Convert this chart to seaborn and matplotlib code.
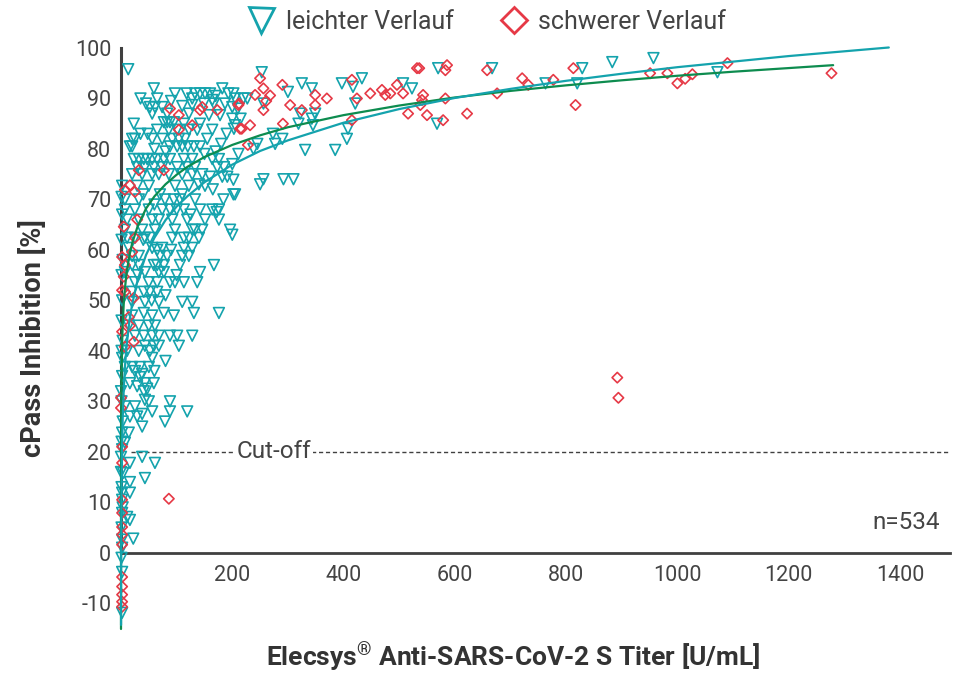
import matplotlib
matplotlib.use("Agg")
import matplotlib.pyplot as plt
from matplotlib.lines import Line2D
import pandas as pd
import seaborn as sns

# --- data --------------------------------------------------------------
# (titer U/mL, cPass inhibition %)
mild_points = [
    # sparse region, titer > ~190
    (253, 95.2), (202, 91), (220, 90), (227, 90), (205, 90), (256, 89), (300, 91.3),
    (325, 93), (343, 92), (397, 93), (417, 92.3), (433, 94), (421, 89), (507, 93),
    (523, 92), (570, 96), (568, 85), (322, 87), (349, 87), (343, 86), (345, 84.7),
    (319, 85), (408, 84), (406, 82), (273, 83), (290, 82), (277, 81), (245, 81),
    (238, 80), (331, 79.8), (385, 79.8), (202, 73.9), (256, 74), (250, 73), (292, 74),
    (310, 74), (205, 71), (211, 79), (200, 77), (200, 86), (203, 84), (667, 96),
    (763, 93), (820, 93), (829, 96), (883, 97.2), (957, 98), (1072, 95.2),
    (202, 71), (184, 70), (172, 67.5), (200, 63),
    # dense region, 72-96 %
    (13, 95.8), (59, 92), (97, 91), (133, 91), (142, 91), (151, 91), (160, 91), (182, 92),
    (65, 90), (128, 90), (164, 89.7),
    (52, 88.3), (61, 88.3), (74, 88.3), (128, 88.7), (149, 89), (167, 89), (187, 89), (200, 88.3),
    (56, 87), (83, 87), (122, 87), (158, 86.7), (178, 86.7),
    (23, 85), (77, 85.3), (83, 85.3), (88, 85.3), (95, 85.3), (113, 85), (142, 85), (205, 84.7),
    (65, 83.8), (86, 83.8), (101, 83.8), (122, 83.8), (137, 83.8), (164, 83.8),
    (20, 82), (25, 82), (56, 82), (74, 82), (92, 82), (104, 82), (115, 82), (155, 82),
    (16, 80.5), (20, 80.5), (88, 80.5), (101, 80.5), (110, 80.5), (131, 80.5), (142, 80.5),
    (23, 78), (32, 78), (41, 78), (47, 78), (56, 78), (65, 78), (77, 78), (88, 78),
    (113, 78), (128, 78), (164, 78), (176, 78),
    (29, 76.4), (43, 76.4), (59, 76.4), (74, 76.4), (101, 76.4), (119, 76.4), (133, 76.4),
    (173, 76.4), (185, 76.4),
    (20, 75), (38, 75), (56, 75), (68, 75), (86, 75), (110, 75), (128, 75), (146, 75),
    (160, 74.5), (182, 74.5), (191, 74.5),
    (2, 72.7), (29, 72.7), (50, 72.7), (97, 72.7), (122, 72.7), (151, 72.7),
    (35, 90), (45, 89), (90, 89.5), (110, 88.5), (118, 91), (170, 90.5), (193, 91),
    (210, 88), (215, 86), (190, 83), (180, 81), (170, 79.5), (150, 79), (120, 80.5),
    (80, 79.5), (60, 80), (48, 83), (35, 83), (140, 73), (165, 72),
    # 48-72 %
    (7, 70), (32, 70), (79, 70), (95, 70), (106, 70), (133, 70),
    (7, 68), (25, 68), (50, 68), (74, 68), (88, 68), (113, 68), (142, 68), (164, 68), (176, 68),
    (11, 66), (32, 66), (56, 66), (68, 66), (92, 66), (119, 66), (151, 66), (176, 66),
    (7, 64), (38, 64), (61, 64), (97, 64), (128, 64), (133, 64), (146, 64), (196, 64),
    (11, 62.4), (25, 62.4), (43, 62.4), (52, 62.4), (92, 62.4), (113, 62.4), (122, 62.4), (140, 62.4),
    (14, 60.4), (56, 60.4), (74, 60.4), (113, 60.4), (128, 60.4),
    (20, 58.8), (32, 58.8), (70, 58.8), (83, 58.8), (110, 58.8), (122, 58.8),
    (20, 57), (32, 57), (59, 57), (65, 57), (77, 57), (106, 57), (167, 57),
    (7, 55.6), (43, 55.6), (68, 55.6), (77, 55.6), (142, 55.6),
    (25, 53.6), (50, 53.6), (65, 53.6), (88, 53.6), (97, 53.6), (113, 53.6), (137, 53.6),
    (20, 51.7), (41, 51.7), (52, 51.7), (65, 51.7),
    (20, 49.7), (43, 49.7), (68, 49.7), (110, 49.7), (128, 49.7),
    (110, 71), (70, 71), (40, 71), (60, 69), (100, 68), (125, 67), (40, 62), (65, 60),
    (90, 60), (100, 55), (30, 55), (55, 50), (80, 51),
    # below 48 %
    (20, 47), (41, 47.5), (56, 47), (77, 47.5), (131, 47.5), (176, 47.5),
    (14, 45), (32, 45), (50, 45), (61, 45),
    (41, 43), (56, 43), (68, 43), (88, 43), (101, 43), (128, 43),
    (43, 41), (59, 41), (68, 41), (104, 41),
    (32, 40), (52, 40), (2, 38.6), (56, 38.6),
    (7, 36.8), (20, 36.8), (34, 36.8), (50, 36.8), (38, 35.4), (34, 34.8),
    (16, 33.6), (29, 33), (43, 33.6), (59, 33.6), (0, 32), (41, 32), (47, 32.5),
    (43, 30.3), (88, 30), (7, 29), (25, 29), (56, 28), (88, 28), (119, 28),
    (16, 27), (29, 27), (38, 27.5), (79, 26), (38, 25), (2, 23.8), (14, 23.8),
    (95, 47), (25, 43), (80, 38), (60, 36), (50, 30), (25, 36), (11, 40),
    (7, 21.8), (38, 19), (61, 17.8), (43, 14.8), (16, 17.8), (16, 14), (16, 11.9),
    (0, 19), (0, 16), (4, 15.8), (11, 7.1), (16, 6.5), (22, 2.8), (2, 2.6),
    (2, 11.9), (2, 10.5), (2, 7.9), (2, -3.8), (2, -11.9),
    # column along the y axis
    (1, 70.5), (2, 67), (1, 62), (3, 58), (1, 55), (2, 50), (1, 46), (3, 42), (1, 40),
    (2, 35), (1, 30), (3, 26), (1, 22), (2, 20.5), (1, 13), (3, 9), (1, 5), (2, 1), (1, -1),
]

severe_points = [
    (250, 94), (290, 92.7), (256, 92), (241, 90.7), (268, 90.6), (261, 89.5), (349, 90.7),
    (370, 90), (349, 88.7), (304, 88.7), (256, 87.7), (211, 88.7), (325, 87.7), (415, 93.7),
    (424, 90), (448, 91), (469, 91.7), (475, 90.7), (484, 91), (496, 92.7), (507, 91),
    (532, 96), (536, 96), (543, 90.7), (538, 88.7), (516, 87), (550, 86.7), (579, 85.7),
    (583, 90), (415, 85.7), (291, 85), (217, 84), (232, 84.7), (228, 80.8), (586, 96.6),
    (583, 95.6), (658, 95.6), (541, 89.7), (622, 87), (676, 91), (721, 94), (732, 92.7),
    (777, 93.7), (813, 96), (817, 88.7), (951, 95), (982, 95), (1000, 93), (1014, 93.9),
    (1027, 94.8), (1090, 97), (1277, 95), (892, 34.7), (894, 30.7), (86, 10.7),
    (88, 88), (104, 86.7), (128, 84.7), (104, 83.8), (146, 88.3), (142, 87.7), (173, 87.7),
    (212, 89), (214, 84), (32, 75.8), (77, 75.8), (16, 72.8), (7, 71.9), (25, 71.5),
    (29, 66), (5, 64.6), (25, 62.4), (20, 59.6), (2, 58.6), (7, 57), (5, 54.7), (2, 52),
    (7, 51.7), (23, 50.5), (14, 46.7), (2, 43.8), (16, 45), (23, 41.8), (7, 40.8),
    (0, 30.7), (0, 28.7), (2, 21), (2, 17.8), (2, 10.5), (2, 7.9), (2, 5.1), (2, 3.6),
    (2, 1.6), (2, -4.8), (2, -6.7), (2, -8.3), (2, -9.7), (2, -10.7),
]

# fitted curves as drawn in the reference
mild_fit_x = [0.1, 0.3, 1, 2, 3, 5, 7, 10, 15, 20, 30, 45, 60, 80, 100, 120, 150, 200,
              250, 300, 400, 500, 600, 700, 800, 900, 1000, 1100, 1200, 1380]
mild_fit_y = [-14.3, -1.1, 13.3, 21.6, 26.5, 32.6, 36.7, 40.9, 45.8, 49.2, 54.1, 59.0, 62.4,
              65.9, 68.6, 70.7, 73.4, 76.9, 79.6, 81.7, 85.2, 87.9, 90.1, 91.9, 93.5, 94.9,
              96.2, 97.3, 98.4, 100.1]
severe_fit_x = [0.0025, 0.03, 0.3, 1, 2, 3, 5, 7, 10, 15, 20, 30, 45, 60, 80, 100, 120, 150,
                200, 250, 300, 400, 500, 600, 700, 800, 900, 1000, 1100, 1280]
severe_fit_y = [-15.1, 6.0, 25.6, 35.8, 41.7, 45.1, 49.5, 52.3, 55.4, 58.8, 61.3, 64.7, 68.2,
                70.6, 73.0, 74.9, 76.5, 78.4, 80.8, 82.7, 84.3, 86.7, 88.6, 90.2, 91.5, 92.6,
                93.6, 94.5, 95.3, 96.6]

cutoff = 20
x_ticks = [200, 400, 600, 800, 1000, 1200, 1400]
y_ticks = [-10, 0, 10, 20, 30, 40, 50, 60, 70, 80, 90, 100]

TEAL = "#14a3ad"
RED = "#e63946"
GREEN = "#0d8c4f"
DARK = "#404040"
TEXT = "#444444"

sns.set_style("white")
plt.rcParams["font.family"] = ["Roboto", "DejaVu Sans"]
plt.rcParams["axes.unicode_minus"] = False
plt.rcParams["mathtext.fontset"] = "custom"
plt.rcParams["mathtext.bf"] = "Roboto:bold"
plt.rcParams["mathtext.rm"] = "Roboto"
plt.rcParams["mathtext.default"] = "bf"

mild = pd.DataFrame(mild_points, columns=["titer", "inhibition"])
severe = pd.DataFrame(severe_points, columns=["titer", "inhibition"])

fig = plt.figure(figsize=(9.61, 6.77), dpi=100)
ax = fig.add_axes([121 / 961, 1 - 631 / 677, 829 / 961, 583 / 677])

sns.scatterplot(data=mild, x="titer", y="inhibition", ax=ax, marker="v", s=60,
                color=TEAL, facecolor="none", edgecolor=TEAL, linewidth=1.2,
                clip_on=False, zorder=3)
sns.scatterplot(data=severe, x="titer", y="inhibition", ax=ax, marker="D", s=28,
                color=RED, facecolor="none", edgecolor=RED, linewidth=1.2,
                clip_on=False, zorder=3)

sns.lineplot(x=severe_fit_x, y=severe_fit_y, ax=ax, color=GREEN, lw=1.6,
             sort=False, estimator=None, clip_on=False, zorder=4)
sns.lineplot(x=mild_fit_x, y=mild_fit_y, ax=ax, color=TEAL, lw=1.6,
             sort=False, estimator=None, clip_on=False, zorder=4)

# cut-off line
ax.hlines(cutoff, 18, 1490, colors=DARK, linestyles=(0, (3, 2)), lw=1.0, zorder=2)
ax.text(275, cutoff, "Cut-off", ha="center", va="center", fontsize=17.5, color=TEXT,
        bbox=dict(facecolor="white", edgecolor="none", pad=1), zorder=2.5)
ax.text(1412, 6, "n=534", ha="center", va="center", fontsize=17.5, color=TEXT)

ax.set_xlim(0, 1490)
ax.set_ylim(-15.5, 100)
ax.set_xticks(x_ticks)
ax.set_yticks(y_ticks)
ax.tick_params(length=0, labelsize=15.5, labelcolor=TEXT)
ax.tick_params(axis="x", pad=9)
ax.tick_params(axis="y", pad=7)

for side in ["top", "right"]:
    ax.spines[side].set_visible(False)
ax.spines["bottom"].set_position(("data", 0))
ax.spines["bottom"].set_color(DARK)
ax.spines["bottom"].set_linewidth(2)
ax.spines["left"].set_bounds(0, 100)
ax.spines["left"].set_color(DARK)
ax.spines["left"].set_linewidth(2.2)

ax.set_xlabel("Elecsys$^{®}$ Anti-SARS-CoV-2 S Titer [U/mL]", fontsize=19,
              fontweight="bold", color="#333333", va="center")
ax.xaxis.set_label_coords(0.473, -0.045)
ax.set_ylabel("cPass Inhibition [%]", fontsize=19.5, fontweight="bold",
              color="#333333", va="center")
ax.yaxis.set_label_coords(-0.106, 0.503)

handles = [
    Line2D([], [], ls="none", marker="v", ms=18, mfc="none", mec=TEAL, mew=2),
    Line2D([], [], ls="none", marker="D", ms=13, mfc="none", mec=RED, mew=2),
]
fig.legend(handles, ["leichter Verlauf", "schwerer Verlauf"], loc="center",
           bbox_to_anchor=(486 / 961, 1 - 22 / 677), ncol=2, frameon=False,
           fontsize=18, labelcolor=TEXT, handletextpad=0.4, columnspacing=1.8,
           handlelength=1.2)

fig.savefig("out.png", dpi=100)
